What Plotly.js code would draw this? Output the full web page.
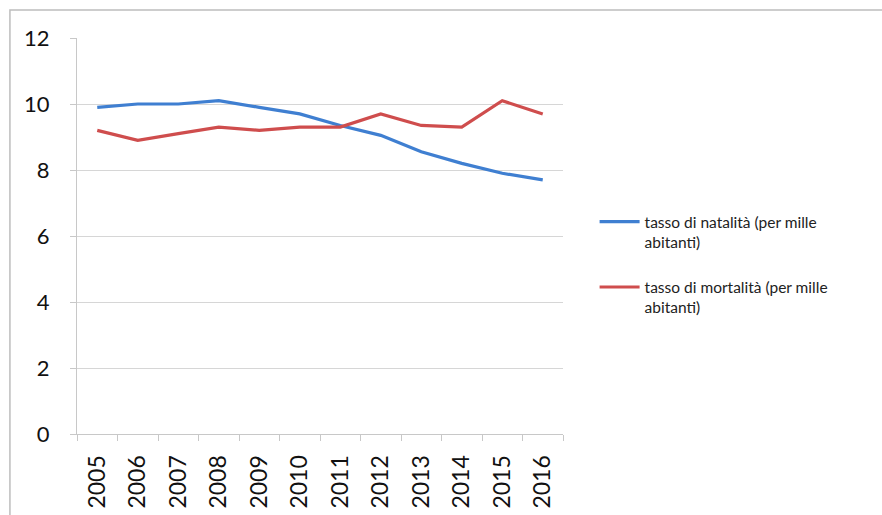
<!DOCTYPE html>
<html>
<head>
<meta charset="utf-8">
<script src="https://cdn.plot.ly/plotly-3.0.1.min.js"></script>
<style>html,body{margin:0;padding:0;background:#fff;}#chart{width:882px;height:515px;}</style>
</head>
<body>
<div id="chart"></div>
<script>
const years = ['2005','2006','2007','2008','2009','2010','2011','2012','2013','2014','2015','2016'];
const natalita = [9.9, 10.0, 10.0, 10.1, 9.9, 9.7, 9.35, 9.05, 8.55, 8.2, 7.9, 7.7];
const mortalita = [9.2, 8.9, 9.1, 9.3, 9.2, 9.3, 9.3, 9.7, 9.35, 9.3, 10.1, 9.7];
const seriesNames = ['tasso di natalità (per mille<br>abitanti)', 'tasso di mortalità (per mille<br>abitanti)'];
const yTicks = [0, 2, 4, 6, 8, 10, 12];

const traces = [
  {x: years, y: natalita, name: seriesNames[0], legendgroup: 'a', type: 'scatter', mode: 'lines',
   line: {color: '#3f7fd1', width: 3.2}},
  {x: years, y: mortalita, name: seriesNames[1], legendgroup: 'b', type: 'scatter', mode: 'lines',
   line: {color: '#cf4d4d', width: 3.2}}
];

const layout = {
  width: 882, height: 515,
  margin: {l: 77, r: 319, t: 38, b: 81},
  paper_bgcolor: '#fff', plot_bgcolor: '#fff',
  font: {family: 'Lato, "Open Sans", sans-serif', color: '#222'},
  showlegend: true,
  legend: {x: 1.065, y: 0.578, xanchor: 'left', yanchor: 'top', valign: 'top',
           font: {size: 15.5, color: '#222'}, tracegroupgap: 22, itemwidth: 40,
           bgcolor: 'rgba(0,0,0,0)'},
  xaxis: {type: 'category', tickangle: -90, tickfont: {size: 23, color: '#111'},
          showgrid: false, showline: true, linecolor: '#c8c8c8', linewidth: 1,
          ticks: 'outside', tickson: 'boundaries', ticklen: 6, tickcolor: '#c8c8c8',
          range: [-0.5, 11.5], zeroline: false, ticklabelstandoff: 11},
  yaxis: {range: [0, 12], tickvals: yTicks, ticktext: yTicks.map(String),
          tickfont: {size: 22, color: '#111'}, showgrid: true, gridcolor: '#d6d6d6',
          showline: true, linecolor: '#c8c8c8', ticks: 'outside', ticklen: 6,
          tickcolor: '#c8c8c8', zeroline: false, ticklabelstandoff: 16},
  shapes: [{type: 'rect', xref: 'paper', yref: 'paper',
            x0: -0.138, x1: 1.7, y0: -0.25, y1: 1.0707,
            line: {color: '#bdbdbd', width: 1.5}, fillcolor: 'rgba(0,0,0,0)', layer: 'below'}]
};

Plotly.newPlot('chart', traces, layout, {displayModeBar: false, staticPlot: true});
</script>
</body>
</html>
